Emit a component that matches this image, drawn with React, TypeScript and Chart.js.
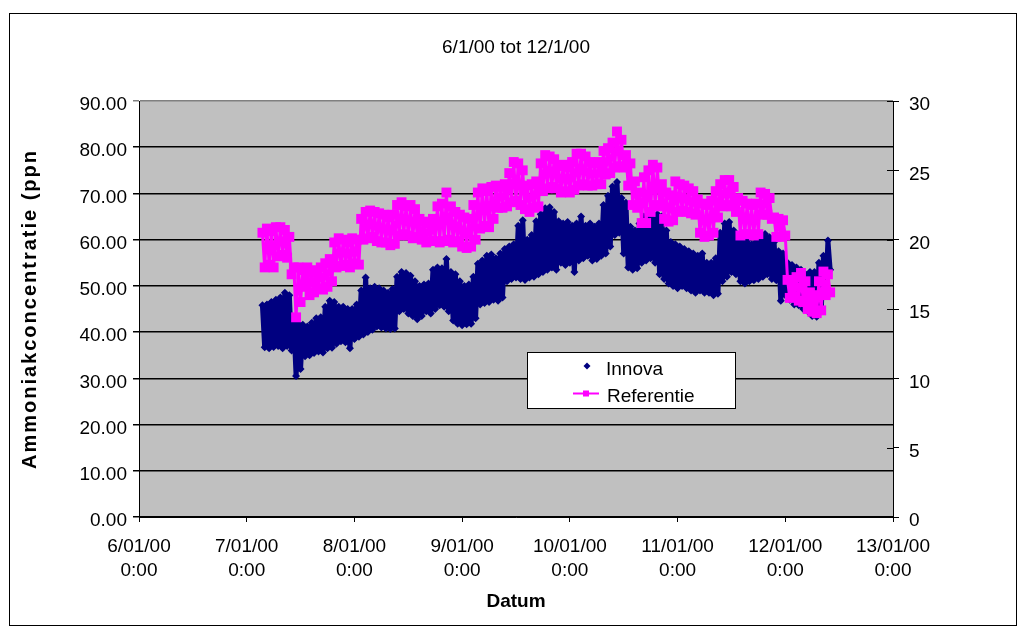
import { useEffect, useRef } from 'react';
import { Chart, registerables } from 'chart.js';

Chart.register(...registerables);

// Text
const chartTitle = '6/1/00 tot 12/1/00';
const xAxisTitle = 'Datum';
const yAxisTitle = 'Ammoniakconcentratie (ppn';
const dayLabels = ['6/01/00', '7/01/00', '8/01/00', '9/01/00', '10/01/00', '11/01/00', '12/01/00', '13/01/00'];
const timeLabel = '0:00';
const seriesNames = ['Innova', 'Referentie'];

// Axes (x in hours since 6/01/00 0:00)
const xMin = 0;
const xMax = 168;
const xStep = 24;
const leftMax = 90;
const leftStep = 10;
const rightMax = 30;
const rightStep = 5;

// Hourly samples starting at 7/01/00 3:30
const startHour = 27.5;

// Innova (ppm, left axis): upper reading on the hour, lower reading half an hour later
const innovaHigh = [
  45.8, 46, 46.5, 47, 47.5, 48.5, 48, 42, 41.8, 41.6,
  41.2, 42, 43, 43.2, 45.5, 46.8, 46.5, 45.5, 45.5, 45,
  45, 46, 49, 51.8, 49.5, 49.8, 49.5, 49, 48.5, 49.3,
  52, 53, 52.8, 52.2, 51, 50, 50.3, 50.5, 53.5, 54,
  53.8, 55.8, 53, 52.5, 51, 50, 50.3, 52, 54.8, 55.5,
  56.5, 56.8, 56, 57, 58, 58.5, 59, 63, 64.2, 60,
  61, 64, 65.5, 66.8, 67, 66, 64, 63.5, 63.8, 63,
  63.5, 65, 63, 63.5, 62.8, 63.5, 67.5, 69.5, 71.5, 72.5,
  69, 68, 62.8, 62, 63.5, 65, 65.5, 64.5, 65.5, 65,
  62, 59.5, 59, 58.5, 58, 57.5, 57, 56.5, 57, 55,
  55, 56, 61.5, 63.5, 63.8, 62, 60.5, 60, 59.8, 59,
  59.5, 61, 61.2, 60.5, 59.5, 57.5, 57, 55, 54.5, 54,
  53.5, 52.5, 53, 53, 55, 56.5, 59.8,
];
const innovaLow = [
  36.7, 36.5, 36.8, 37, 36.5, 37, 36, 30.5, 32, 34.8,
  35, 35.5, 35.8, 35.6, 36.5, 36.6, 37.5, 38, 37.8, 36.5,
  38.5, 39, 39.5, 40, 40.5, 41.2, 41, 40.8, 40.7, 40.8,
  44.5, 45, 44, 43.5, 42.8, 43.5, 44.5, 44, 45, 45.8,
  45.5, 44.5, 42.5, 41.8, 41.5, 41.7, 41.8, 43, 46, 46.3,
  46.5, 47, 46.8, 47.5, 51, 51.5, 51.8, 51.5, 51.3, 51.8,
  52, 52.5, 53, 53.5, 54, 53.5, 55, 54.5, 55, 53,
  55.5, 56, 56.5, 55.5, 55.8, 56.5, 57, 58.5, 61, 61.5,
  57, 54, 53.5, 53.8, 55, 55.5, 56, 55, 52.5, 51.5,
  50.5, 50, 49.5, 50, 49.5, 49, 48.5, 49, 48.5, 48.5,
  48, 48.3, 51, 52, 53, 52.5, 51, 50.5, 51, 51.2,
  51.5, 52, 52.5, 51.5, 51.2, 46.8, 48, 47, 46, 45.8,
  45, 44.5, 43.5, 43.3, 44.5, 48.5, 53.5,
];

// Referentie (ppm, right axis): upper reading on the hour, lower reading half an hour later
const referentieHigh = [
  20.5, 20.8, 20.6, 20.9, 20.9, 20.7, 20.2, 18.0, 18.0, 17.8,
  18.0, 17.6, 17.8, 18.0, 18.3, 18.6, 19.8, 20.1, 20.0, 19.8,
  20.1, 20.0, 21.5, 22.0, 22.1, 22.0, 21.9, 21.8, 21.6, 21.8,
  22.5, 22.7, 22.4, 22.5, 22.2, 21.5, 21.3, 21.2, 21.5, 22.4,
  22.6, 23.4, 22.4, 22.0, 21.8, 21.6, 21.5, 22.5, 23.4, 23.7,
  23.5, 23.8, 23.9, 23.8, 24.0, 24.8, 25.6, 25.5, 25.0, 23.9,
  24.0, 24.2, 25.5, 26.1, 26.0, 25.8, 25.3, 25.4, 25.2, 25.6,
  26.2, 26.2, 26.0, 25.6, 25.5, 25.6, 26.4, 26.6, 27.0, 27.8,
  27.2, 26.1, 25.5, 24.2, 23.4, 24.5, 25.0, 25.4, 25.2, 24.0,
  23.4, 23.2, 24.2, 24.0, 23.9, 23.7, 23.5, 22.9, 22.6, 22.5,
  22.8, 23.5, 24.0, 24.3, 24.3, 23.8, 23.0, 22.8, 22.6, 22.5,
  22.6, 23.4, 23.3, 23.0, 21.6, 21.5, 21.4, 17.1, 17.0, 17.3,
  17.6, 17.0, 16.2, 16.0, 17.0, 17.7, 17.5,
];
const referentieLow = [
  18.0, 18.2, 18.0, 18.8, 18.9, 18.7, 17.5, 14.4, 15.5, 16.6,
  16.0, 16.2, 16.5, 16.4, 16.6, 17.0, 18.0, 18.1, 18.2, 18.0,
  18.3, 18.2, 20.0, 20.1, 20.2, 19.9, 19.8, 19.8, 19.6, 19.7,
  20.3, 20.4, 20.3, 20.1, 20.2, 20.0, 19.8, 19.9, 19.9, 19.8,
  19.9, 20.0, 19.8, 19.9, 19.5, 19.4, 19.5, 20.0, 20.8, 21.0,
  20.9, 21.5, 22.3, 22.3, 22.4, 22.7, 22.8, 22.5, 22.2, 22.0,
  22.3, 22.4, 23.5, 23.7, 23.8, 23.7, 23.4, 23.5, 23.4, 23.6,
  23.9, 24.0, 23.9, 23.9, 24.0, 24.0, 24.7, 24.8, 25.2, 25.3,
  25.2, 23.9, 22.5, 22.3, 21.2, 21.2, 22.0, 22.5, 22.4, 21.5,
  21.3, 21.4, 22.0, 22.1, 22.0, 21.9, 21.8, 20.5, 20.2, 20.3,
  20.5, 21.6, 22.4, 22.5, 22.4, 22.0, 20.3, 20.4, 20.4, 20.3,
  20.4, 21.8, 21.8, 21.5, 20.2, 20.2, 20.3, 15.8, 15.9, 15.6,
  15.5, 15.0, 14.8, 14.7, 14.9, 16.0, 16.2,
];

const NAVY = '#000080';
const MAGENTA = '#FF00FF';
const PLOT_BG = '#C0C0C0';
const FONT = '"Liberation Sans", Arial, Helvetica, sans-serif';
const FONT_SIZE = 19;

const innovaPoints = innovaHigh.flatMap((hi, i) => [
  { x: startHour + i, y: hi },
  { x: startHour + i + 0.5, y: innovaLow[i] },
]);
const referentiePoints = referentieHigh.flatMap((hi, i) => [
  { x: startHour + i, y: hi },
  { x: startHour + i + 0.5, y: referentieLow[i] },
]);

const decorPlugin = {
  id: 'decor',
  beforeDraw(chart: any) {
    const { ctx, chartArea: a } = chart;
    ctx.save();
    ctx.fillStyle = '#ffffff';
    ctx.fillRect(0, 0, chart.width, chart.height);
    ctx.fillStyle = PLOT_BG;
    ctx.fillRect(a.left, a.top, a.right - a.left, a.bottom - a.top);
    ctx.restore();
  },
  afterDraw(chart: any) {
    const { ctx, chartArea: a } = chart;
    ctx.save();

    // outer frame
    ctx.strokeStyle = '#000';
    ctx.lineWidth = 1;
    ctx.strokeRect(9.5, 13.5, 1007, 612);

    // chart title
    ctx.fillStyle = '#000';
    ctx.font = `${FONT_SIZE}px ${FONT}`;
    ctx.textAlign = 'center';
    ctx.textBaseline = 'middle';
    ctx.fillText(chartTitle, (a.left + a.right) / 2, 48);

    // left axis title, rotated
    ctx.save();
    ctx.translate(30, (a.top + a.bottom) / 2);
    ctx.rotate(-Math.PI / 2);
    ctx.font = `bold 20px ${FONT}`;
    (ctx as any).letterSpacing = '2px';
    ctx.textAlign = 'center';
    ctx.textBaseline = 'middle';
    ctx.fillText(yAxisTitle, 0, 0);
    ctx.restore();

    // right axis ticks cross the axis line
    const y2 = chart.scales.y2;
    ctx.beginPath();
    y2.ticks.forEach((t: any) => {
      const p = Math.round(y2.getPixelForValue(t.value)) + 0.5;
      ctx.moveTo(a.right - 6, p);
      ctx.lineTo(a.right, p);
    });
    ctx.lineWidth = 1;
    ctx.strokeStyle = '#000';
    ctx.stroke();

    // legend
    const lx = 527.5;
    const ly = 352.5;
    const lw = 208;
    const lh = 56;
    ctx.fillStyle = '#fff';
    ctx.fillRect(lx, ly, lw, lh);
    ctx.strokeRect(lx, ly, lw, lh);

    // Innova marker (diamond)
    ctx.fillStyle = NAVY;
    ctx.beginPath();
    ctx.moveTo(587, 362.5);
    ctx.lineTo(590.5, 366);
    ctx.lineTo(587, 369.5);
    ctx.lineTo(583.5, 366);
    ctx.closePath();
    ctx.fill();

    // Referentie marker (line + square)
    ctx.strokeStyle = MAGENTA;
    ctx.lineWidth = 2;
    ctx.beginPath();
    ctx.moveTo(573, 393.5);
    ctx.lineTo(599, 393.5);
    ctx.stroke();
    ctx.fillStyle = MAGENTA;
    ctx.fillRect(583, 390.5, 6, 6);

    ctx.fillStyle = '#000';
    ctx.font = `${FONT_SIZE}px ${FONT}`;
    ctx.textAlign = 'left';
    ctx.textBaseline = 'middle';
    ctx.fillText(seriesNames[0], 606, 370);
    ctx.fillText(seriesNames[1], 607, 397);

    ctx.restore();
  },
};

export default function App() {
  const canvasRef = useRef<HTMLCanvasElement | null>(null);

  useEffect(() => {
    const canvas = canvasRef.current;
    if (!canvas) return;
    const tickFont = { family: FONT, size: FONT_SIZE };
    const chart = new Chart(canvas, {
      type: 'line',
      data: {
        datasets: [
          {
            label: seriesNames[0],
            data: innovaPoints,
            yAxisID: 'y',
            order: 1,
            showLine: true,
            borderColor: NAVY,
            borderWidth: 5,
            borderJoinStyle: 'round',
            tension: 0,
            pointStyle: 'rectRot',
            pointRadius: 4,
            pointBorderWidth: 0,
            pointBackgroundColor: NAVY,
            pointHoverRadius: 4,
          },
          {
            label: seriesNames[1],
            data: referentiePoints,
            yAxisID: 'y2',
            order: 0,
            showLine: true,
            borderColor: MAGENTA,
            borderWidth: 3,
            borderJoinStyle: 'round',
            tension: 0,
            pointStyle: 'rect',
            pointRadius: 7,
            pointBorderWidth: 0,
            pointBackgroundColor: MAGENTA,
            pointHoverRadius: 7,
          },
        ],
      },
      options: {
        responsive: false,
        animation: false,
        devicePixelRatio: 1,
        events: [],
        layout: { padding: { top: 101, left: 0, right: 0, bottom: 0 } },
        plugins: {
          legend: { display: false },
          tooltip: { enabled: false },
          title: { display: false },
        },
        scales: {
          x: {
            type: 'linear',
            min: xMin,
            max: xMax,
            afterFit: (s: any) => {
              s.height = 117;
            },
            grid: { drawOnChartArea: false, drawTicks: true, tickLength: 5, color: '#000', lineWidth: 1 },
            border: { color: '#000', width: 1 },
            ticks: {
              stepSize: xStep,
              autoSkip: false,
              maxRotation: 0,
              minRotation: 0,
              padding: 13,
              color: '#000',
              font: { ...tickFont, lineHeight: '24px' },
              callback: (v: any) => [dayLabels[Math.round(Number(v) / xStep)], timeLabel],
            },
            title: {
              display: true,
              text: xAxisTitle,
              color: '#000',
              font: { family: FONT, size: FONT_SIZE, weight: 'bold' },
              padding: { top: 0, bottom: 21 },
            },
          },
          y: {
            type: 'linear',
            position: 'left',
            min: 0,
            max: leftMax,
            afterFit: (s: any) => {
              s.width = 139;
            },
            grid: {
              drawTicks: true,
              tickLength: 6,
              lineWidth: 1.5,
              color: (c: any) => (c.tick && c.tick.value === leftMax ? '#808080' : '#000'),
            },
            border: { color: '#000', width: 1 },
            ticks: {
              stepSize: leftStep,
              padding: 6,
              labelOffset: 4,
              color: '#000',
              font: tickFont,
              callback: (v: any) => Number(v).toFixed(2),
            },
          },
          y2: {
            type: 'linear',
            position: 'right',
            min: 0,
            max: rightMax,
            afterFit: (s: any) => {
              s.width = 132;
            },
            grid: { drawOnChartArea: false, drawTicks: true, tickLength: 6, color: '#000', lineWidth: 1 },
            border: { color: '#000', width: 1 },
            ticks: {
              stepSize: rightStep,
              padding: 10,
              labelOffset: 4,
              color: '#000',
              font: tickFont,
              callback: (v: any) => String(v),
            },
          },
        },
      },
      plugins: [decorPlugin],
    });
    return () => chart.destroy();
  }, []);

  return (
    <div style={{ position: 'absolute', left: 0, top: 0, width: 1025, height: 634, background: '#fff' }}>
      <canvas ref={canvasRef} width={1025} height={634} style={{ display: 'block' }} />
    </div>
  );
}
